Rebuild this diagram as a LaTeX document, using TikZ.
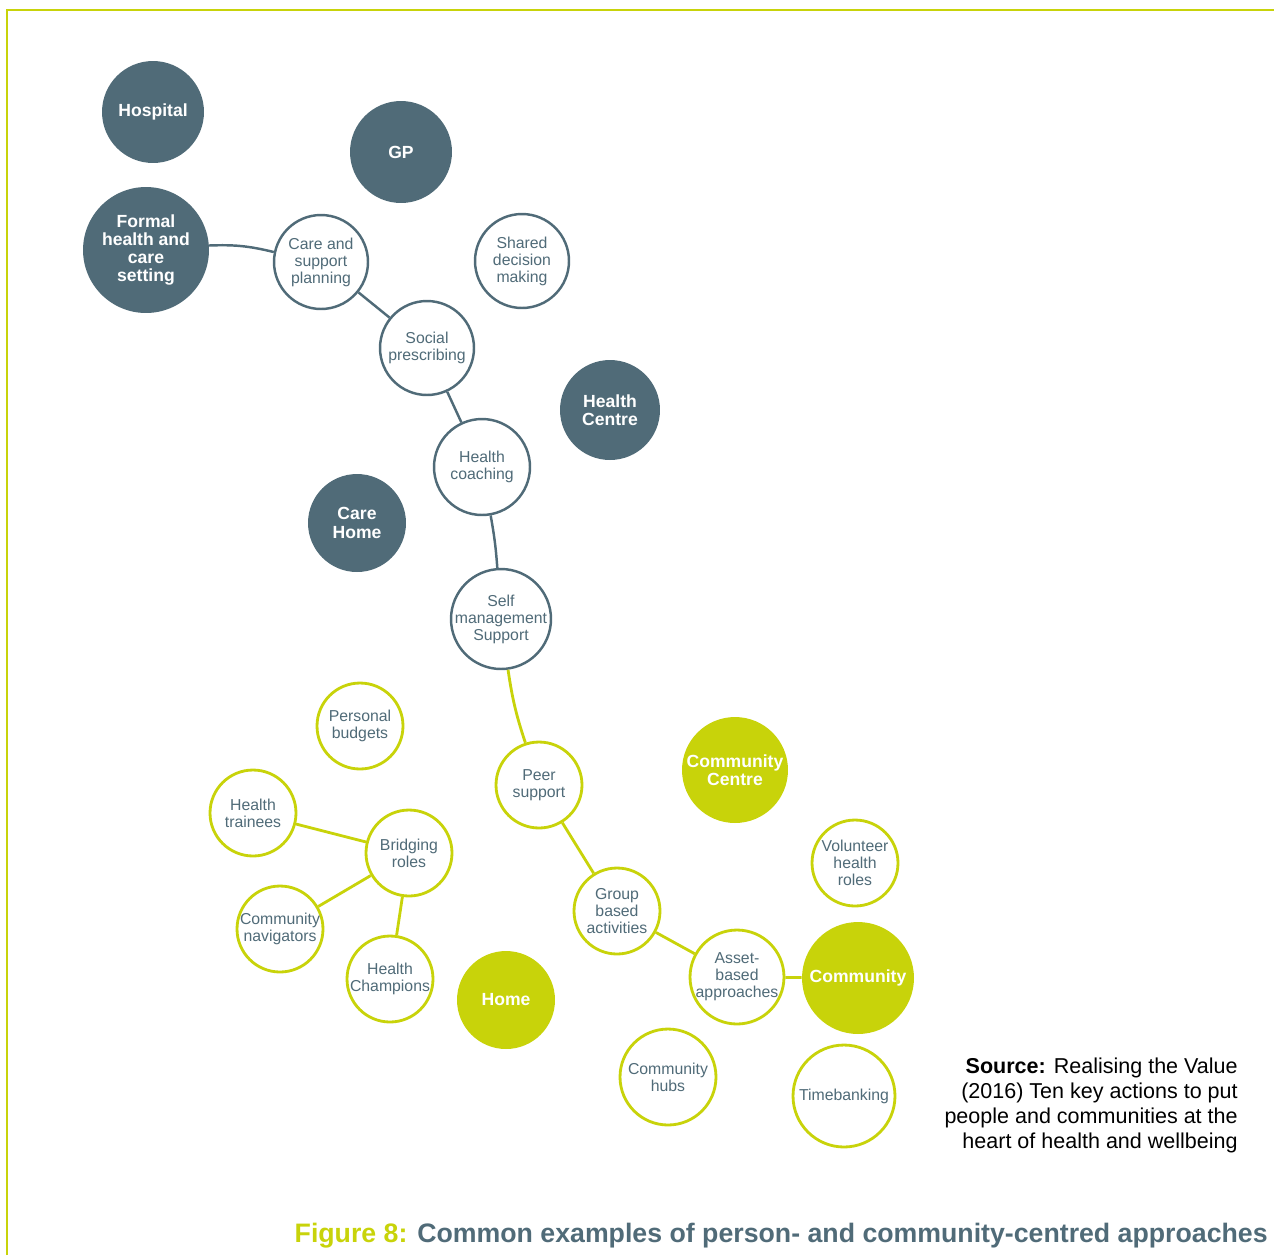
\documentclass[tikz,border=0pt]{standalone}
\usepackage{fontspec}
\setmainfont{Liberation Sans}
\definecolor{darkslate}{HTML}{506B78}
\definecolor{limegreen}{HTML}{C8D30A}

\begin{document}
\begin{tikzpicture}
[
    x=0.02cm, y=-0.02cm,
    bub/.style={circle, inner sep=-2mm, align=center, minimum size=#1*0.4mm},
    slatefill/.style={bub=#1, fill=darkslate, text=white, font=\fontsize{10}{10.4}\selectfont\bfseries},
    limefill/.style={bub=#1, fill=limegreen, text=white, font=\fontsize{10}{10.4}\selectfont\bfseries},
    slatering/.style={bub=#1, draw=darkslate, line width=1.4pt, fill=white, text=darkslate, font=\fontsize{9}{9.7}\selectfont},
    limering/.style={bub=#1, draw=limegreen, line width=1.6pt, fill=white, text=darkslate, font=\fontsize{9}{9.7}\selectfont},
    slatelink/.style={draw=darkslate, line width=1.4pt},
    limelink/.style={draw=limegreen, line width=1.6pt},
]
\useasboundingbox (0,0) rectangle (1274,1255);
\draw[limegreen, line width=1.7pt] (7,1255) -- (7,10) -- (1274,10);

\node[slatefill=51] (hospital) at (153,112) {Hospital};
\node[slatefill=51] (gp) at (401,152) {GP};
\node[slatefill=63] (formal) at (146,250) {Formal\\health and\\care\\setting};
\node[slatefill=50] (hcentre) at (610,410) {Health\\Centre};
\node[slatefill=49] (chome) at (357,523) {Care\\Home};
\node[slatering=47] (careplan) at (321,262) {Care and\\support\\planning};
\node[slatering=47] (shared) at (522,261) {Shared\\decision\\making};
\node[slatering=47] (social) at (427,348) {Social\\prescribing};
\node[slatering=48] (coaching) at (482,467) {Health\\coaching};
\node[slatering=50] (selfman) at (501,619) {Self\\management\\Support};
\node[limefill=53] (ccentre) at (735,770) {Community\\Centre};
\node[limefill=49] (home) at (506,1000) {Home};
\node[limefill=56] (community) at (858,978) {Community};
\node[limering=43] (budgets) at (360,726) {Personal\\budgets};
\node[limering=43] (peer) at (539,785) {Peer\\support};
\node[limering=43] (trainees) at (253,813) {Health\\trainees};
\node[limering=43] (bridging) at (409,853) {Bridging\\roles};
\node[limering=43] (volunteer) at (855,863) {Volunteer\\health\\roles};
\node[limering=43] (navigators) at (280,929) {Community\\navigators};
\node[limering=43] (group) at (617,911) {Group\\based\\activities};
\node[limering=47] (asset) at (737,977) {Asset-\\based\\approaches};
\node[limering=43] (champions) at (390,979) {Health\\Champions};
\node[limering=48] (hubs) at (668,1077) {Community\\hubs};
\node[limering=51] (timebank) at (844,1096) {Timebanking};

\draw[slatelink] (formal) to[bend left=8] (careplan);
\draw[slatelink] (careplan) -- (social);
\draw[slatelink] (social) -- (coaching);
\draw[slatelink] (coaching) to[bend left=3] (selfman);
\draw[limelink] (selfman) to[bend right=5] (peer);
\draw[limelink] (peer) -- (group);
\draw[limelink] (group) -- (asset);
\draw[limelink] (asset) -- (community);
\draw[limelink] (trainees) -- (bridging);
\draw[limelink] (navigators) -- (bridging);
\draw[limelink] (champions) -- (bridging);

\node[anchor=north east, align=right, inner sep=0pt, font=\fontsize{12.25}{14.2}\selectfont] (source) at (1238,1058)
{\textbf{Source:} Realising the Value\\(2016) Ten key actions to put\\people and communities at the\\heart of health and wellbeing};
\node[anchor=base east, inner sep=0pt, text=darkslate, font=\fontsize{15.2}{17}\selectfont\bfseries] (caption) at (1268,1242)
{\textcolor{limegreen}{Figure 8:} Common examples of person- and community-centred approaches};
\end{tikzpicture}
\end{document}
